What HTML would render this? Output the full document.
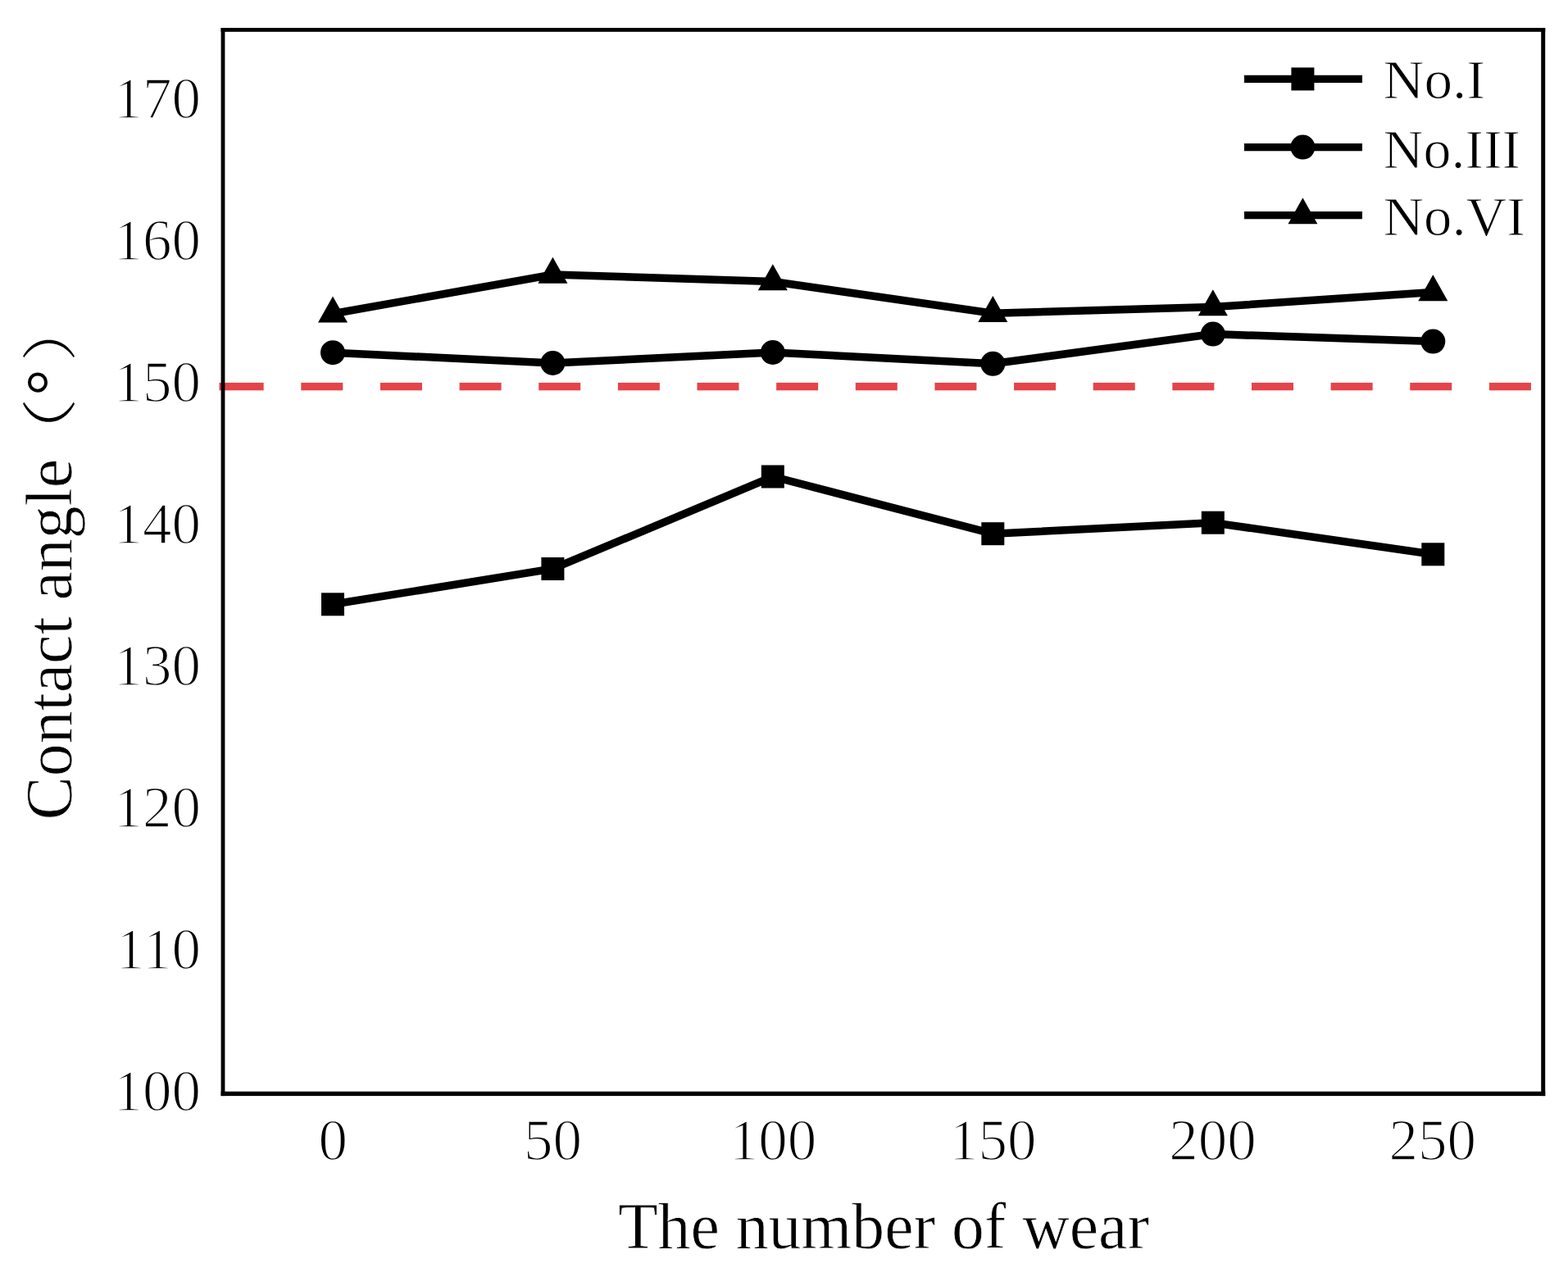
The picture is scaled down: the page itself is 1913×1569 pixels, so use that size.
<!DOCTYPE html><html><head><meta charset="utf-8"><title>Contact angle vs number of wear</title><style>html,body{margin:0;padding:0;background:#fff;overflow:hidden;}svg{display:block;}text{font-family:"Liberation Serif","Noto Serif CJK SC",serif;fill:#000;}</style></head><body>
<svg width="1913" height="1569" viewBox="0 0 1913 1569">
<rect width="1913" height="1569" fill="#fff"/>
<g fill="#e4444a"><rect x="267.50" y="466.90" width="54.16" height="9.4"/><rect x="367.30" y="466.90" width="51.00" height="9.4"/><rect x="463.94" y="466.90" width="51.00" height="9.4"/><rect x="560.58" y="466.90" width="51.00" height="9.4"/><rect x="657.22" y="466.90" width="51.00" height="9.4"/><rect x="753.86" y="466.90" width="51.00" height="9.4"/><rect x="850.50" y="466.90" width="51.00" height="9.4"/><rect x="947.14" y="466.90" width="51.00" height="9.4"/><rect x="1043.78" y="466.90" width="51.00" height="9.4"/><rect x="1140.42" y="466.90" width="51.00" height="9.4"/><rect x="1237.06" y="466.90" width="51.00" height="9.4"/><rect x="1333.70" y="466.90" width="51.00" height="9.4"/><rect x="1430.34" y="466.90" width="51.00" height="9.4"/><rect x="1526.98" y="466.90" width="51.00" height="9.4"/><rect x="1623.62" y="466.90" width="51.00" height="9.4"/><rect x="1720.26" y="466.90" width="51.00" height="9.4"/><rect x="1816.90" y="466.90" width="51.00" height="9.4"/></g>
<g fill="#000"><rect x="269.60" y="34.00" width="4.8" height="1303.10"/><rect x="269.60" y="34.00" width="1615.60" height="4.8"/><rect x="1880.20" y="34.00" width="5.0" height="1303.10"/><rect x="269.60" y="1331.70" width="1615.60" height="5.4"/></g>
<polyline points="406.00,737.30 674.40,694.00 942.80,581.50 1211.30,651.20 1479.80,637.70 1748.30,676.30" fill="none" stroke="#000" stroke-width="9.5" stroke-linejoin="miter"/>
<polyline points="406.00,430.20 674.40,443.00 942.80,430.00 1211.30,443.80 1479.80,407.60 1748.30,416.60" fill="none" stroke="#000" stroke-width="9.5" stroke-linejoin="miter"/>
<polyline points="406.00,382.80 674.40,335.00 942.80,343.50 1211.30,382.30 1479.80,374.50 1748.30,356.50" fill="none" stroke="#000" stroke-width="9.5" stroke-linejoin="miter"/>
<g fill="#000"><rect x="392.00" y="723.30" width="28" height="28"/><rect x="660.40" y="680.00" width="28" height="28"/><rect x="928.80" y="567.50" width="28" height="28"/><rect x="1197.30" y="637.20" width="28" height="28"/><rect x="1465.80" y="623.70" width="28" height="28"/><rect x="1734.30" y="662.30" width="28" height="28"/><circle cx="406.00" cy="430.20" r="15"/><circle cx="674.40" cy="443.00" r="15"/><circle cx="942.80" cy="430.00" r="15"/><circle cx="1211.30" cy="443.80" r="15"/><circle cx="1479.80" cy="407.60" r="15"/><circle cx="1748.30" cy="416.60" r="15"/><polygon points="406.00,361.47 424.00,393.47 388.00,393.47"/><polygon points="674.40,313.67 692.40,345.67 656.40,345.67"/><polygon points="942.80,322.17 960.80,354.17 924.80,354.17"/><polygon points="1211.30,360.97 1229.30,392.97 1193.30,392.97"/><polygon points="1479.80,353.17 1497.80,385.17 1461.80,385.17"/><polygon points="1748.30,335.17 1766.30,367.17 1730.30,367.17"/></g>
<text x="245.0" y="144" font-size="71" text-anchor="end" stroke="#fff" stroke-width="1.6">170</text>
<text x="245.0" y="317" font-size="71" text-anchor="end" stroke="#fff" stroke-width="1.6">160</text>
<text x="245.0" y="490" font-size="71" text-anchor="end" stroke="#fff" stroke-width="1.6">150</text>
<text x="245.0" y="663" font-size="71" text-anchor="end" stroke="#fff" stroke-width="1.6">140</text>
<text x="245.0" y="836" font-size="71" text-anchor="end" stroke="#fff" stroke-width="1.6">130</text>
<text x="245.0" y="1009" font-size="71" text-anchor="end" stroke="#fff" stroke-width="1.6">120</text>
<text x="245.0" y="1182" font-size="71" text-anchor="end" stroke="#fff" stroke-width="1.6">110</text>
<text x="245.0" y="1355" font-size="71" text-anchor="end" stroke="#fff" stroke-width="1.6">100</text>
<text x="406.30" y="1415" font-size="71" text-anchor="middle" stroke="#fff" stroke-width="1.6">0</text>
<text x="674.60" y="1415" font-size="71" text-anchor="middle" stroke="#fff" stroke-width="1.6">50</text>
<text x="942.90" y="1415" font-size="71" text-anchor="middle" stroke="#fff" stroke-width="1.6">100</text>
<text x="1211.20" y="1415" font-size="71" text-anchor="middle" stroke="#fff" stroke-width="1.6">150</text>
<text x="1479.50" y="1415" font-size="71" text-anchor="middle" stroke="#fff" stroke-width="1.6">200</text>
<text x="1747.80" y="1415" font-size="71" text-anchor="middle" stroke="#fff" stroke-width="1.6">250</text>
<text x="753.90" y="1522.8" font-size="80" textLength="648.12" lengthAdjust="spacingAndGlyphs" stroke="#fff" stroke-width="0.8">The number of wear</text>
<text transform="translate(87.3,1000.39) rotate(-90)" x="0" y="0" font-size="80" textLength="440.46" lengthAdjust="spacingAndGlyphs" stroke="#fff" stroke-width="0.8">Contact angle</text>
<text transform="translate(85.5,570.6) rotate(-90) scale(1.258,1)" x="0" y="0" font-weight="200" font-size="67.7">（</text>
<text transform="translate(86.8,482.4) rotate(-90)" x="0" y="0" font-size="80">°</text>
<text transform="translate(85.5,440.9) rotate(-90) scale(1.127,1)" x="0" y="0" font-weight="200" font-size="67.7">）</text>
<line x1="1518" y1="96.4" x2="1662" y2="96.4" stroke="#000" stroke-width="9.2"/>
<g fill="#000"><rect x="1575.40" y="82.40" width="28" height="28"/></g>
<text x="1687.54" y="120.2" font-size="67" textLength="124.88" lengthAdjust="spacingAndGlyphs" stroke="#fff" stroke-width="1.0">No.I</text>
<line x1="1518" y1="179.6" x2="1662" y2="179.6" stroke="#000" stroke-width="9.2"/>
<g fill="#000"><circle cx="1589.40" cy="179.60" r="15"/></g>
<text x="1687.58" y="204.6" font-size="67" textLength="167.63" lengthAdjust="spacingAndGlyphs" stroke="#fff" stroke-width="1.0">No.III</text>
<line x1="1518" y1="262.6" x2="1662" y2="262.6" stroke="#000" stroke-width="9.2"/>
<g fill="#000"><polygon points="1589.40,241.27 1607.40,273.27 1571.40,273.27"/></g>
<text x="1687.55" y="286.6" font-size="67" textLength="173.45" lengthAdjust="spacingAndGlyphs" stroke="#fff" stroke-width="1.0">No.VI</text>
</svg></body></html>
